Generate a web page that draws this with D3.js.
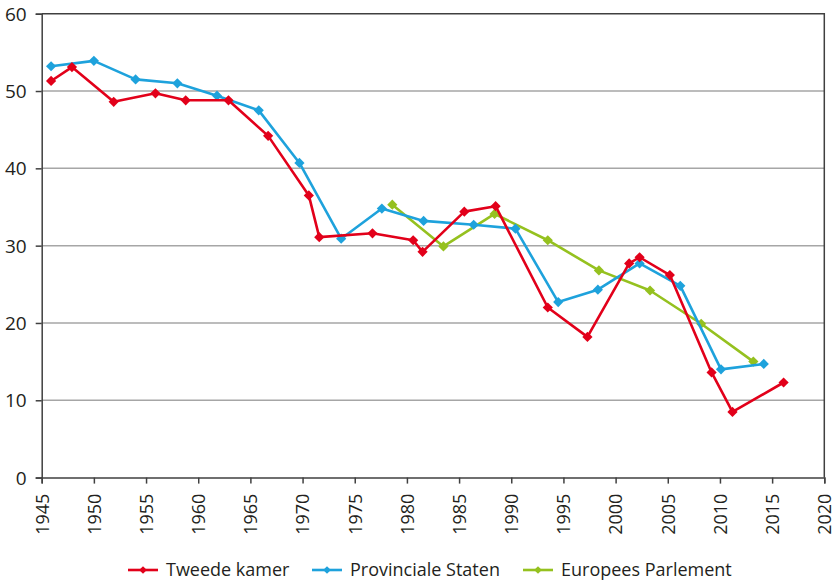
<!DOCTYPE html>
<html>
<head>
<meta charset="utf-8">
<script src="https://cdn.jsdelivr.net/npm/d3@7"></script>
<style>
  body { margin: 0; background: #fff; }
  text { font-family: "Open Sans", sans-serif; fill: #231f20; }
</style>
</head>
<body>
<script>
// values (years fractional, as plotted)
var tkYears = [1945.9, 1947.9, 1951.9, 1955.9, 1958.8, 1962.9, 1966.7, 1970.6, 1971.6, 1976.7, 1980.6, 1981.5, 1985.5, 1988.5, 1993.5, 1997.3, 2001.3, 2002.3, 2005.2, 2009.2, 2011.2, 2016.1];
var tkValues = [51.3, 53.1, 48.6, 49.7, 48.8, 48.8, 44.2, 36.5, 31.1, 31.6, 30.7, 29.2, 34.4, 35.1, 22.0, 18.2, 27.7, 28.5, 26.2, 13.6, 8.5, 12.3];

var psYears = [1945.9, 1950.0, 1954.0, 1958.0, 1961.8, 1965.8, 1969.7, 1973.7, 1977.6, 1981.6, 1986.4, 1990.4, 1994.5, 1998.3, 2002.3, 2006.2, 2010.1, 2014.2];
var psValues = [53.2, 53.9, 51.5, 51.0, 49.4, 47.5, 40.7, 30.9, 34.8, 33.2, 32.7, 32.2, 22.7, 24.3, 27.7, 24.8, 14.0, 14.7];

var epYears = [1978.6, 1983.5, 1988.4, 1993.5, 1998.4, 2003.3, 2008.2, 2013.2];
var epValues = [35.3, 29.9, 34.1, 30.7, 26.8, 24.2, 19.9, 15.0];

var seriesNames = ["Tweede kamer", "Provinciale Staten", "Europees Parlement"];
var seriesColors = ["#e2001a", "#1ea2dc", "#95c11f"];
var xTicks = d3.range(1945, 2021, 5);
var yTicks = [0, 10, 20, 30, 40, 50, 60];

var width = 834, height = 583;
var svg = d3.select("body").append("svg")
    .attr("width", width)
    .attr("height", height);

var x = d3.scaleLinear().domain([1945, 2020]).range([41.7, 824.3]);
var y = d3.scaleLinear().domain([0, 60]).range([477.6, 13.7]);

// gridlines
svg.append("g")
    .selectAll("line")
    .data(yTicks.filter(d => d > 0 && d < 60))
    .join("line")
    .attr("x1", x(1945)).attr("x2", x(2020))
    .attr("y1", d => y(d)).attr("y2", d => y(d))
    .attr("stroke", "#a6a6a6")
    .attr("stroke-width", 1.5);

// frame top and right
svg.append("path")
    .attr("d", "M" + x(1945) + "," + y(60) + "H" + x(2020) + "V" + y(0))
    .attr("fill", "none")
    .attr("stroke", "#404040")
    .attr("stroke-width", 1.5);

var yAxis = svg.append("g")
    .attr("transform", "translate(" + x(1945) + ",0)")
    .call(d3.axisLeft(y).tickValues(yTicks).tickSize(6).tickPadding(9));
yAxis.selectAll("text").style("font-size", "19px").attr("dy", "0.35em");

var xAxis = svg.append("g")
    .attr("transform", "translate(0," + y(0) + ")")
    .call(d3.axisBottom(x).tickValues(xTicks).tickFormat(d3.format("d")).tickSize(6));
xAxis.selectAll("text")
    .style("font-size", "18px")
    .attr("text-anchor", "end")
    .attr("transform", "rotate(-90)")
    .attr("x", -16)
    .attr("y", 0)
    .attr("dy", "0.35em");

[yAxis, xAxis].forEach(a => {
    a.select(".domain").attr("stroke", "#404040").attr("stroke-width", 1.5);
    a.selectAll(".tick line").attr("stroke", "#404040").attr("stroke-width", 1.5);
});

var series = [
    { name: seriesNames[0], color: seriesColors[0], pts: tkYears.map((t, i) => [t, tkValues[i]]) },
    { name: seriesNames[1], color: seriesColors[1], pts: psYears.map((t, i) => [t, psValues[i]]) },
    { name: seriesNames[2], color: seriesColors[2], pts: epYears.map((t, i) => [t, epValues[i]]) }
];

var line = d3.line().x(d => x(d[0])).y(d => y(d[1]));
// square rotated 45 degrees -> even diamond
var marker = d3.symbol().type(d3.symbolSquare).size(52);

// draw green first, then blue, then red on top
series.slice().reverse().forEach(s => {
    var g = svg.append("g");
    g.append("path")
        .attr("d", line(s.pts))
        .attr("fill", "none")
        .attr("stroke", s.color)
        .attr("stroke-width", 2.6)
        .attr("stroke-linejoin", "round");
    g.selectAll("path.m")
        .data(s.pts)
        .join("path")
        .attr("class", "m")
        .attr("d", marker)
        .attr("transform", d => "translate(" + x(d[0]) + "," + y(d[1]) + ") rotate(45)")
        .attr("fill", s.color);
});

// legend
var legendX = [128, 312, 523];
var legend = svg.append("g").attr("transform", "translate(0,570)");
series.forEach((s, i) => {
    var lg = legend.append("g").attr("transform", "translate(" + legendX[i] + ",0)");
    lg.append("line").attr("x1", 0).attr("x2", 30)
        .attr("stroke", s.color).attr("stroke-width", 2.6);
    lg.append("path").attr("d", d3.symbol().type(d3.symbolSquare).size(30))
        .attr("transform", "translate(15,0) rotate(45)").attr("fill", s.color);
    lg.append("text").attr("x", 38).attr("dy", "0.35em")
        .style("font-size", "18px").text(s.name);
});
</script>
</body>
</html>
